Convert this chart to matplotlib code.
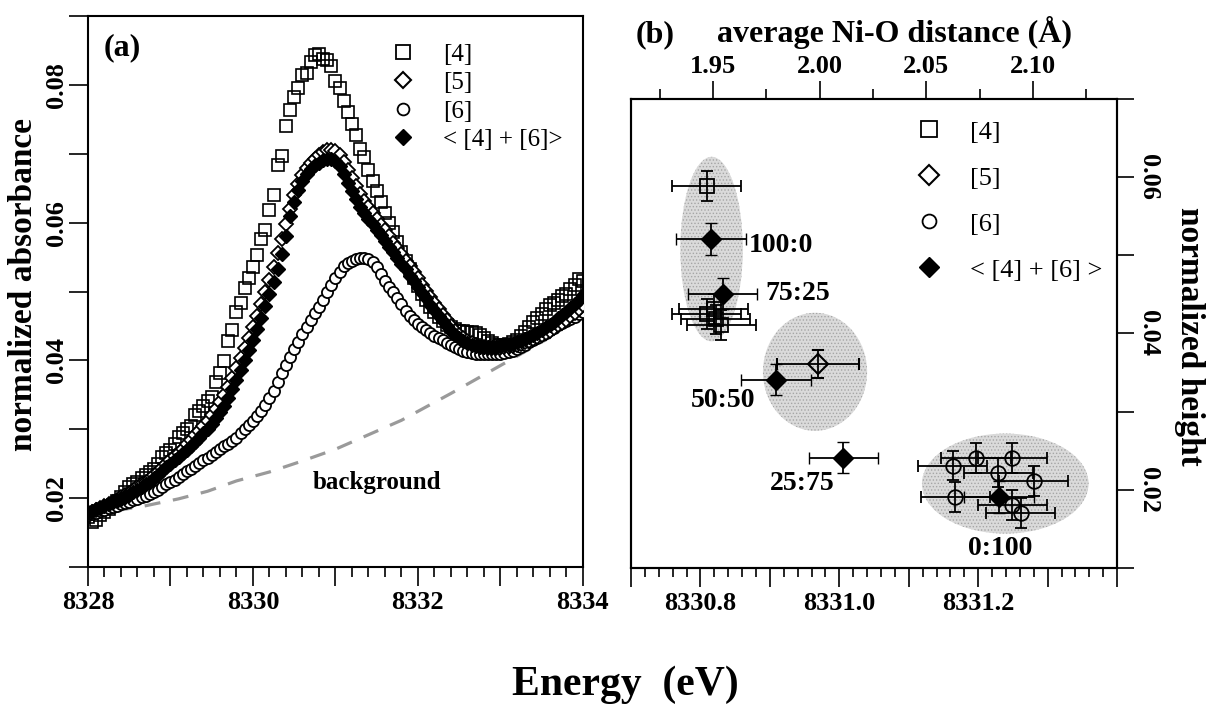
import matplotlib
matplotlib.use('Agg')
import matplotlib.pyplot as plt
from matplotlib.lines import Line2D
from matplotlib.patches import Ellipse
from matplotlib.ticker import MultipleLocator

plt.rcParams['font.family'] = ['Liberation Serif', 'DejaVu Serif']
plt.rcParams['font.weight'] = 'bold'
plt.rcParams['axes.labelweight'] = 'bold'
plt.rcParams['axes.linewidth'] = 1.5
plt.rcParams['hatch.linewidth'] = 0.6

# ---------------- panel (a): XANES pre-edge spectra ----------------
energy = [
    8328.00, 8328.05, 8328.10, 8328.15, 8328.20, 8328.25, 8328.30, 8328.35, 8328.40, 8328.45,
    8328.50, 8328.55, 8328.60, 8328.65, 8328.70, 8328.75, 8328.80, 8328.85, 8328.90, 8328.95,
    8329.00, 8329.05, 8329.10, 8329.15, 8329.20, 8329.25, 8329.30, 8329.35, 8329.40, 8329.45,
    8329.50, 8329.55, 8329.60, 8329.65, 8329.70, 8329.75, 8329.80, 8329.85, 8329.90, 8329.95,
    8330.00, 8330.05, 8330.10, 8330.15, 8330.20, 8330.25, 8330.30, 8330.35, 8330.40, 8330.45,
    8330.50, 8330.55, 8330.60, 8330.65, 8330.70, 8330.75, 8330.80, 8330.85, 8330.90, 8330.95,
    8331.00, 8331.05, 8331.10, 8331.15, 8331.20, 8331.25, 8331.30, 8331.35, 8331.40, 8331.45,
    8331.50, 8331.55, 8331.60, 8331.65, 8331.70, 8331.75, 8331.80, 8331.85, 8331.90, 8331.95,
    8332.00, 8332.05, 8332.10, 8332.15, 8332.20, 8332.25, 8332.30, 8332.35, 8332.40, 8332.45,
    8332.50, 8332.55, 8332.60, 8332.65, 8332.70, 8332.75, 8332.80, 8332.85, 8332.90, 8332.95,
    8333.00, 8333.05, 8333.10, 8333.15, 8333.20, 8333.25, 8333.30, 8333.35, 8333.40, 8333.45,
    8333.50, 8333.55, 8333.60, 8333.65, 8333.70, 8333.75, 8333.80, 8333.85, 8333.90, 8333.95,
    8334.00]

abs4 = [
    0.0172, 0.0166, 0.0168, 0.0176, 0.0180, 0.0184, 0.0190, 0.0196, 0.0202, 0.0209,
    0.0216, 0.0220, 0.0224, 0.0229, 0.0234, 0.0238, 0.0242, 0.0250, 0.0260, 0.0266,
    0.0270, 0.0278, 0.0289, 0.0294, 0.0300, 0.0305, 0.0321, 0.0326, 0.0334, 0.0341,
    0.0347, 0.0368, 0.0382, 0.0399, 0.0428, 0.0444, 0.0470, 0.0484, 0.0505, 0.0519,
    0.0536, 0.0553, 0.0576, 0.0589, 0.0618, 0.0640, 0.0683, 0.0697, 0.0740, 0.0763,
    0.0782, 0.0795, 0.0815, 0.0818, 0.0833, 0.0843, 0.0845, 0.0838, 0.0836, 0.0827,
    0.0805, 0.0796, 0.0777, 0.0761, 0.0743, 0.0727, 0.0707, 0.0695, 0.0676, 0.0661,
    0.0646, 0.0630, 0.0614, 0.0600, 0.0586, 0.0572, 0.0558, 0.0545, 0.0533, 0.0520,
    0.0508, 0.0497, 0.0487, 0.0478, 0.0470, 0.0463, 0.0457, 0.0452, 0.0448, 0.0445,
    0.0443, 0.0442, 0.0441, 0.0441, 0.0440, 0.0437, 0.0432, 0.0428, 0.0425, 0.0423,
    0.0422, 0.0423, 0.0424, 0.0426, 0.0429, 0.0435, 0.0441, 0.0449, 0.0456, 0.0462,
    0.0468, 0.0474, 0.0480, 0.0484, 0.0488, 0.0493, 0.0497, 0.0503, 0.0510, 0.0518,
    0.0516]

abs5 = [
    0.0178, 0.0180, 0.0183, 0.0186, 0.0189, 0.0192, 0.0195, 0.0198, 0.0201, 0.0204,
    0.0208, 0.0212, 0.0216, 0.0220, 0.0224, 0.0228, 0.0233, 0.0238, 0.0244, 0.0250,
    0.0255, 0.0261, 0.0266, 0.0272, 0.0278, 0.0284, 0.0291, 0.0298, 0.0305, 0.0312,
    0.0320, 0.0329, 0.0339, 0.0350, 0.0362, 0.0375, 0.0389, 0.0403, 0.0418, 0.0433,
    0.0449, 0.0465, 0.0482, 0.0499, 0.0517, 0.0536, 0.0556, 0.0577, 0.0598, 0.0620,
    0.0640, 0.0656, 0.0669, 0.0679, 0.0687, 0.0693, 0.0698, 0.0702, 0.0705, 0.0706,
    0.0704, 0.0698, 0.0688, 0.0677, 0.0665, 0.0653, 0.0642, 0.0632, 0.0623, 0.0614,
    0.0606, 0.0597, 0.0589, 0.0580, 0.0571, 0.0563, 0.0554, 0.0545, 0.0537, 0.0528,
    0.0519, 0.0510, 0.0501, 0.0492, 0.0483, 0.0474, 0.0466, 0.0458, 0.0450, 0.0443,
    0.0437, 0.0432, 0.0428, 0.0425, 0.0422, 0.0420, 0.0419, 0.0418, 0.0418, 0.0418,
    0.0418, 0.0419, 0.0420, 0.0421, 0.0422, 0.0424, 0.0426, 0.0428, 0.0431, 0.0434,
    0.0437, 0.0440, 0.0443, 0.0447, 0.0451, 0.0455, 0.0459, 0.0464, 0.0469, 0.0474,
    0.0480]

abs6 = [
    0.0175, 0.0177, 0.0179, 0.0181, 0.0183, 0.0185, 0.0187, 0.0189, 0.0191, 0.0193,
    0.0195, 0.0197, 0.0199, 0.0201, 0.0203, 0.0206, 0.0209, 0.0212, 0.0216, 0.0220,
    0.0223, 0.0227, 0.0231, 0.0235, 0.0239, 0.0243, 0.0247, 0.0251, 0.0255, 0.0259,
    0.0263, 0.0267, 0.0271, 0.0275, 0.0279, 0.0283, 0.0288, 0.0294, 0.0300, 0.0306,
    0.0312, 0.0319, 0.0326, 0.0335, 0.0345, 0.0356, 0.0368, 0.0381, 0.0393, 0.0405,
    0.0416, 0.0427, 0.0438, 0.0449, 0.0459, 0.0469, 0.0478, 0.0488, 0.0499, 0.0510,
    0.0520, 0.0529, 0.0537, 0.0542, 0.0545, 0.0547, 0.0548, 0.0548, 0.0547, 0.0543,
    0.0535, 0.0526, 0.0516, 0.0507, 0.0499, 0.0491, 0.0482, 0.0472, 0.0464, 0.0458,
    0.0453, 0.0448, 0.0444, 0.0440, 0.0436, 0.0432, 0.0429, 0.0425, 0.0422, 0.0419,
    0.0416, 0.0414, 0.0412, 0.0411, 0.0410, 0.0409, 0.0409, 0.0409, 0.0409, 0.0409,
    0.0410, 0.0411, 0.0412, 0.0414, 0.0417, 0.0420, 0.0423, 0.0426, 0.0430, 0.0433,
    0.0437, 0.0440, 0.0444, 0.0447, 0.0451, 0.0454, 0.0457, 0.0460, 0.0463, 0.0467,
    0.0470]

abs_mix = [
    0.0180, 0.0182, 0.0184, 0.0186, 0.0189, 0.0191, 0.0194, 0.0196, 0.0199, 0.0202,
    0.0205, 0.0209, 0.0212, 0.0216, 0.0220, 0.0224, 0.0229, 0.0234, 0.0239, 0.0245,
    0.0250, 0.0255, 0.0260, 0.0265, 0.0270, 0.0276, 0.0282, 0.0288, 0.0294, 0.0300,
    0.0308, 0.0316, 0.0325, 0.0334, 0.0346, 0.0359, 0.0372, 0.0386, 0.0400, 0.0415,
    0.0430, 0.0446, 0.0462, 0.0479, 0.0496, 0.0514, 0.0533, 0.0555, 0.0580, 0.0610,
    0.0630, 0.0647, 0.0661, 0.0671, 0.0678, 0.0683, 0.0687, 0.0691, 0.0693, 0.0693,
    0.0690, 0.0682, 0.0670, 0.0658, 0.0646, 0.0634, 0.0623, 0.0614, 0.0606, 0.0598,
    0.0590, 0.0582, 0.0574, 0.0565, 0.0557, 0.0548, 0.0540, 0.0532, 0.0523, 0.0515,
    0.0506, 0.0498, 0.0490, 0.0481, 0.0473, 0.0465, 0.0457, 0.0450, 0.0443, 0.0437,
    0.0432, 0.0428, 0.0425, 0.0423, 0.0421, 0.0420, 0.0420, 0.0420, 0.0420, 0.0420,
    0.0421, 0.0422, 0.0423, 0.0424, 0.0426, 0.0428, 0.0431, 0.0434, 0.0437, 0.0440,
    0.0444, 0.0448, 0.0452, 0.0456, 0.0461, 0.0466, 0.0471, 0.0476, 0.0482, 0.0488,
    0.0495]

bg_energy = [8328.0, 8328.7, 8329.1, 8329.45, 8329.8, 8330.2, 8330.6, 8331.0,
             8331.4, 8331.8, 8332.4, 8332.8, 8333.2, 8333.55, 8333.9, 8334.0]
bg_abs = [0.0175, 0.0189, 0.0199, 0.0210, 0.0225, 0.0238, 0.0254, 0.0271,
          0.0292, 0.0313, 0.0352, 0.0379, 0.0406, 0.0430, 0.0466, 0.0473]

# ---------------- panel (b): pre-edge position vs height ----------------
sq_pos = [8330.809, 8330.819, 8330.809, 8330.822, 8330.830]
sq_height = [0.0589, 0.0431, 0.0425, 0.0418, 0.0411]
sq_xerr = [0.050, 0.050, 0.050, 0.050, 0.050]
sq_yerr = [0.0019, 0.0019, 0.0019, 0.0019, 0.0019]

d5_pos = [8330.969]
d5_height = [0.0361]
d5_xerr = [0.059]
d5_yerr = [0.0018]

c6_pos = [8331.163, 8331.197, 8331.249, 8331.229, 8331.280, 8331.167, 8331.249, 8331.261]
c6_height = [0.0231, 0.0241, 0.0241, 0.0222, 0.0211, 0.0191, 0.0181, 0.0170]
c6_xerr = [0.050, 0.050, 0.050, 0.050, 0.050, 0.050, 0.050, 0.050]
c6_yerr = [0.0019, 0.0019, 0.0019, 0.0019, 0.0019, 0.0019, 0.0019, 0.0019]

mix_pos = [8330.815, 8330.832, 8330.909, 8331.006, 8331.230]
mix_height = [0.0521, 0.0451, 0.0341, 0.0241, 0.0191]
mix_xerr = [0.050, 0.050, 0.050, 0.050, 0.050]
mix_yerr = [0.0020, 0.0020, 0.0020, 0.0020, 0.0020]
mix_labels = ['100:0', '75:25', '50:50', '25:75', '0:100']

# grey regions grouping the samples
ell_x = [8330.816, 8330.965, 8331.239]
ell_y = [0.0508, 0.0351, 0.0208]
ell_w = [0.090, 0.150, 0.240]
ell_h = [0.0236, 0.0151, 0.0128]

# ===================================================================
fig = plt.figure(figsize=(12.1, 7.07), dpi=100)

# ------------------------- panel (a) -------------------------------
ax_a = fig.add_axes([0.0727, 0.198, 0.409, 0.7793])
ax_a.plot(bg_energy, bg_abs, color='#9a9a9a', lw=2.3, dashes=(5, 4), zorder=1)
ax_a.plot(energy, abs4, ls='none', marker='s', ms=8.5, mfc='none', mec='black', mew=1.2, zorder=2)
ax_a.plot(energy, abs6, ls='none', marker='o', ms=8, mfc='white', mec='black', mew=1.3, zorder=3)
ax_a.plot(energy, abs5, ls='none', marker='D', ms=7.2, mfc='white', mec='black', mew=1.3, zorder=4)
ax_a.plot(energy, abs_mix, ls='none', marker='D', ms=7.2, mfc='black', mec='black', mew=1.0, zorder=5)

ax_a.set_xlim(8328, 8334)
ax_a.set_ylim(0.01, 0.09)
ax_a.set_xticks([8328, 8329, 8330, 8331, 8332, 8333, 8334],
                labels=['8328', '', '8330', '', '8332', '', '8334'])
ax_a.xaxis.set_minor_locator(MultipleLocator(0.2))
ax_a.set_yticks([0.01, 0.02, 0.03, 0.04, 0.05, 0.06, 0.07, 0.08, 0.09],
                labels=['', '0.02', '', '0.04', '', '0.06', '', '0.08', ''])
ax_a.tick_params(axis='x', which='major', direction='out', length=14, width=1.2,
                 labelsize=19, pad=3)
ax_a.tick_params(axis='x', which='minor', direction='out', length=7, width=1.2)
ax_a.tick_params(axis='y', which='major', direction='out', length=13.5, width=1.2,
                 labelsize=19, pad=1)
for lab in ax_a.get_yticklabels():
    lab.set_rotation(90)
    lab.set_va('center')

ax_a.set_ylabel('normalized absorbance', fontsize=24, fontweight='bold', va='center')
ax_a.yaxis.set_label_coords(-0.131, 0.512)
ax_a.text(0.069, 0.942, '(a)', transform=ax_a.transAxes, fontsize=23,
          ha='center', va='center')
ax_a.text(8331.5, 0.0223, 'background', fontsize=18, ha='center', va='center')

handles_a = [
    Line2D([], [], ls='none', marker='s', ms=9.5, mfc='none', mec='black', mew=1.3),
    Line2D([], [], ls='none', marker='D', ms=8.5, mfc='none', mec='black', mew=1.5),
    Line2D([], [], ls='none', marker='o', ms=8.5, mfc='none', mec='black', mew=1.3),
    Line2D([], [], ls='none', marker='D', ms=8.5, mfc='black', mec='black'),
]
ax_a.legend(handles_a, ['[4]', '[5]', '[6]', '< [4] + [6]>'], loc='upper left',
            bbox_to_anchor=(0.586, 0.9735), frameon=False, borderpad=0,
            handlelength=1.0, handletextpad=1.1, labelspacing=0.24,
            prop={'family': 'Liberation Serif', 'weight': 'normal', 'size': 18})

# ------------------------- panel (b) -------------------------------
ax_b = fig.add_axes([0.5215, 0.1966, 0.4017, 0.6634])
for ex, ey, ew, eh in zip(ell_x, ell_y, ell_w, ell_h):
    ax_b.add_patch(Ellipse((ex, ey), ew, eh, facecolor='#dadada', edgecolor='#a5a5a5',
                           hatch='.....', lw=0, zorder=0))

eb = dict(ecolor='black', elinewidth=1.3, capsize=4.5, capthick=1.3, ls='none', zorder=3)
ax_b.errorbar(sq_pos, sq_height, xerr=sq_xerr, yerr=sq_yerr, fmt='s', ms=10,
              mfc='none', mec='black', mew=1.3, **eb)
ax_b.errorbar(d5_pos, d5_height, xerr=d5_xerr, yerr=d5_yerr, fmt='D', ms=10,
              mfc='none', mec='black', mew=1.5, **eb)
ax_b.errorbar(c6_pos, c6_height, xerr=c6_xerr, yerr=c6_yerr, fmt='o', ms=10.5,
              mfc='none', mec='black', mew=1.3, **eb)
ax_b.errorbar(mix_pos, mix_height, xerr=mix_xerr, yerr=mix_yerr, fmt='D', ms=10.5,
              mfc='black', mec='black', mew=1.0, **eb)

label_x = [8330.870, 8330.893, 8330.832, 8330.946, 8331.232]
label_y = [0.0513, 0.0451, 0.0314, 0.0208, 0.0125]
label_ha = ['left', 'left', 'center', 'center', 'center']
for txt, lx, ly, ha in zip(mix_labels, label_x, label_y, label_ha):
    ax_b.text(lx, ly, txt, fontsize=20, ha=ha, va='center')

ax_b.set_xlim(8330.7, 8331.4)
ax_b.set_ylim(0.01, 0.07)
ax_b.set_xticks([8330.7, 8330.8, 8330.9, 8331.0, 8331.1, 8331.2, 8331.3, 8331.4],
                labels=['', '8330.8', '', '8331.0', '', '8331.2', '', ''])
ax_b.xaxis.set_minor_locator(MultipleLocator(0.02))
ax_b.tick_params(axis='x', which='major', direction='out', length=14, width=1.2,
                 labelsize=19, pad=3, top=False)
ax_b.tick_params(axis='x', which='minor', direction='out', length=6.5, width=1.2, top=False)

ax_b.yaxis.tick_right()
ax_b.yaxis.set_label_position('right')
ax_b.set_yticks([0.01, 0.02, 0.03, 0.04, 0.05, 0.06, 0.07],
                labels=['', '0.02', '', '0.04', '', '0.06', ''])
ax_b.tick_params(axis='y', which='major', direction='out', length=12.5, width=1.2,
                 labelsize=19, pad=2)
for lab in ax_b.get_yticklabels():
    lab.set_rotation(-90)
    lab.set_va('center')
ax_b.set_ylabel('normalized height', fontsize=24, fontweight='bold', rotation=270, va='center')
ax_b.yaxis.set_label_coords(1.150, 0.494)

ax_top = ax_b.twiny()
ax_top.set_xlim(1.9116, 2.1395)
ax_top.set_xticks([1.95, 2.00, 2.05, 2.10], labels=['1.95', '2.00', '2.05', '2.10'])
ax_top.xaxis.set_minor_locator(MultipleLocator(0.025))
ax_top.tick_params(axis='x', which='major', direction='out', length=13, width=1.2,
                   labelsize=19, pad=2)
ax_top.tick_params(axis='x', which='minor', direction='out', length=7, width=1.2)
ax_top.set_xlabel('average Ni-O distance (Å)', fontsize=23, fontweight='bold', va='center')
ax_top.xaxis.set_label_coords(0.543, 1.141)
ax_b.text(0.049, 1.136, '(b)', transform=ax_b.transAxes, fontsize=23,
          ha='center', va='center')

handles_b = [
    Line2D([], [], ls='none', marker='s', ms=11, mfc='none', mec='black', mew=1.3),
    Line2D([], [], ls='none', marker='D', ms=10, mfc='none', mec='black', mew=1.5),
    Line2D([], [], ls='none', marker='o', ms=10, mfc='none', mec='black', mew=1.3),
    Line2D([], [], ls='none', marker='D', ms=10, mfc='black', mec='black'),
]
ax_b.legend(handles_b, ['[4]', '[5]', '[6]', '< [4] + [6] >'], loc='upper left',
            bbox_to_anchor=(0.559, 0.983), frameon=False, borderpad=0,
            handlelength=1.0, handletextpad=1.05, labelspacing=0.855,
            prop={'family': 'Liberation Serif', 'weight': 'normal', 'size': 19})

fig.text(0.5165, 0.031, 'Energy  (eV)', fontsize=30, ha='center', va='center')

fig.savefig('out.png', dpi=100)
